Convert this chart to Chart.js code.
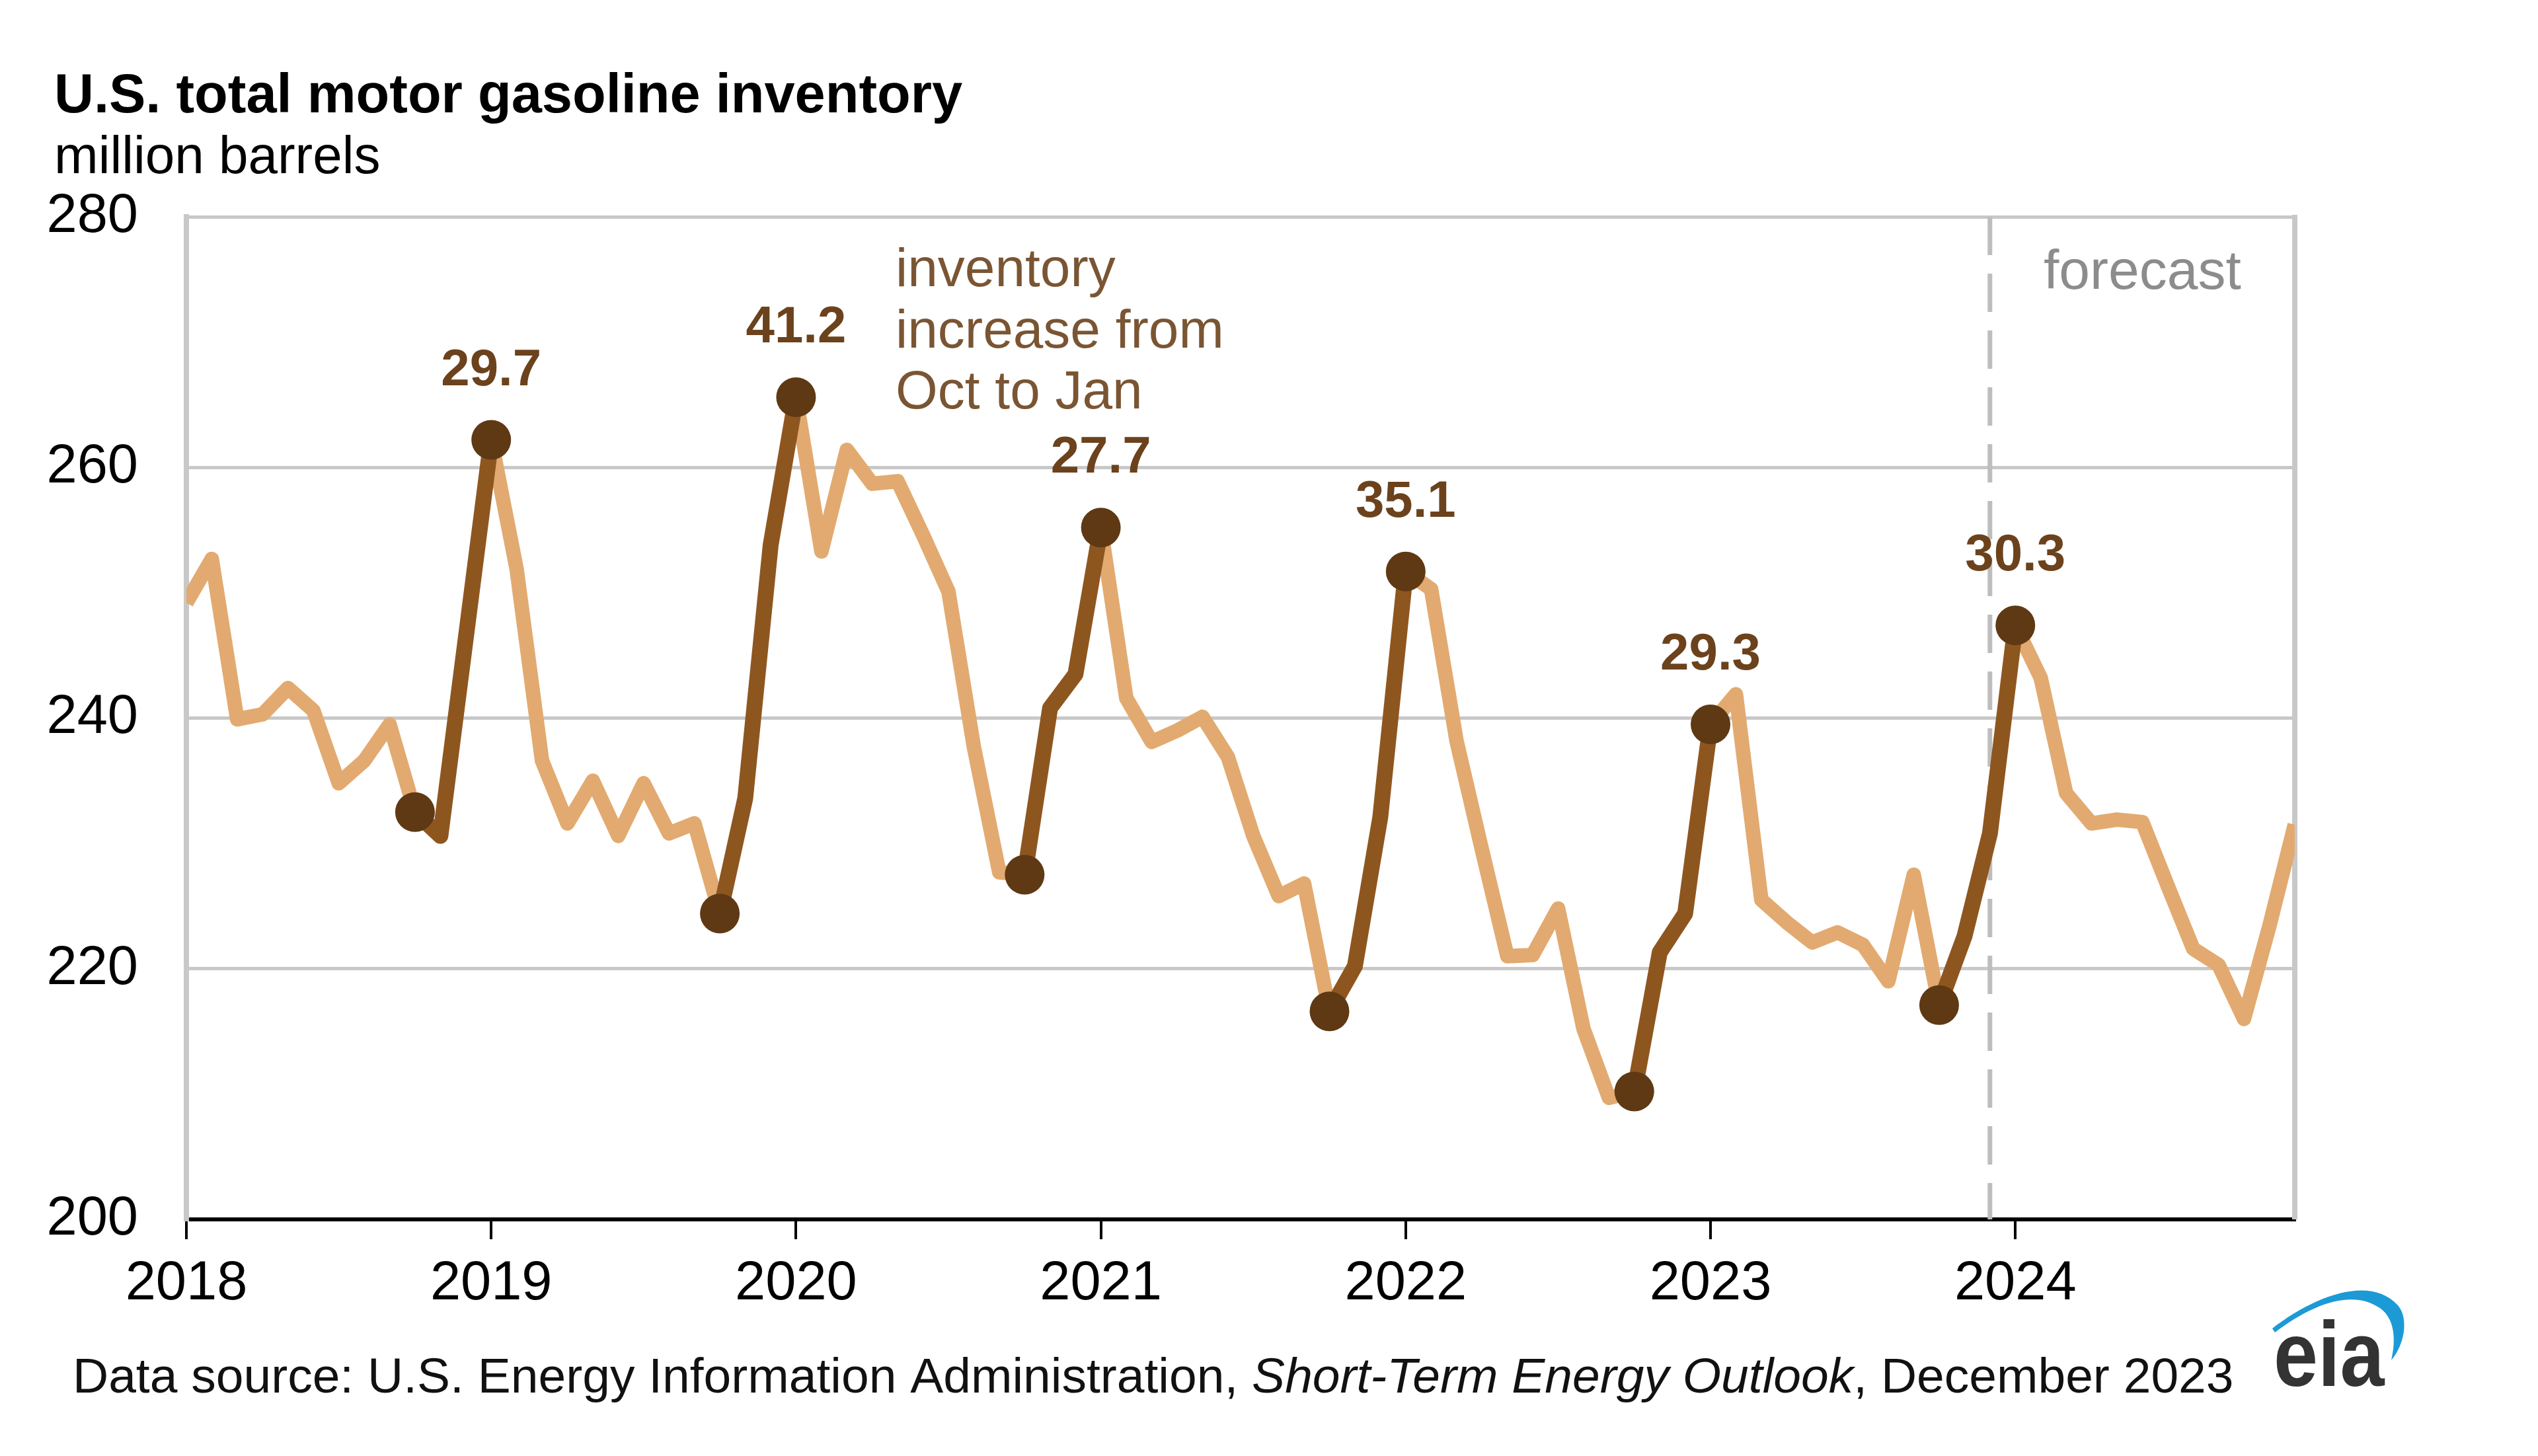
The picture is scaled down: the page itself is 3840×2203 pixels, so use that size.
<!DOCTYPE html>
<html>
<head>
<meta charset="utf-8">
<script src="https://cdn.jsdelivr.net/npm/chart.js@4.4.1/dist/chart.umd.min.js"></script>
<style>
html,body{margin:0;padding:0;background:#fff;overflow:hidden}
#wrap{width:3840px;height:2203px;position:relative}
</style>
</head>
<body>
<div id="wrap"><canvas id="c"></canvas></div>
<script>
// ---------- data ----------
const yearLabels = ['2018', '2019', '2020', '2021', '2022', '2023', '2024'];
const monthNames = ['Jan', 'Feb', 'Mar', 'Apr', 'May', 'Jun', 'Jul', 'Aug', 'Sep', 'Oct', 'Nov', 'Dec'];

// U.S. total motor gasoline inventory, million barrels (monthly)
const inventory2018 = [249.2, 252.7, 239.9, 240.3, 242.4, 240.6, 234.8, 236.6, 239.5, 232.5, 230.6, 246.4];
const inventory2019 = [262.2, 251.9, 236.6, 231.6, 235.0, 230.6, 234.8, 230.8, 231.6, 224.4, 233.6, 253.8];
const inventory2020 = [265.6, 253.3, 261.4, 258.7, 258.9, 254.6, 250.1, 237.7, 227.7, 227.5, 240.8, 243.5];
const inventory2021 = [255.2, 241.6, 238.1, 239.0, 240.1, 236.9, 230.6, 225.8, 226.8, 216.6, 220.2, 232.1];
const inventory2022 = [251.7, 250.3, 238.2, 229.5, 221.0, 221.1, 224.8, 215.2, 209.7, 210.2, 221.3, 224.4];
const inventory2023 = [239.5, 241.9, 225.5, 223.7, 222.1, 222.9, 221.9, 219.0, 227.5, 217.1, 222.6, 230.8];
const inventory2024 = [247.4, 243.2, 234.0, 231.6, 231.9, 231.7, 226.6, 221.6, 220.3, 216.0, 223.4, 231.5];

// Oct -> Jan windows (highlighted) and their labelled increases
const octToJanWindows = [
  ['Oct 2018', 'Jan 2019'],
  ['Oct 2019', 'Jan 2020'],
  ['Oct 2020', 'Jan 2021'],
  ['Oct 2021', 'Jan 2022'],
  ['Oct 2022', 'Jan 2023'],
  ['Oct 2023', 'Jan 2024']
];
const increaseLabels = ['29.7', '41.2', '27.7', '35.1', '29.3', '30.3'];
const forecastStart = 'Dec 2023';
const yTicks = [200, 220, 240, 260, 280];

// ---------- tables built from the arrays ----------
const categories = [];
yearLabels.forEach(y => monthNames.forEach(m => categories.push(m + ' ' + y)));
const inventory = [].concat(inventory2018, inventory2019, inventory2020, inventory2021,
                            inventory2022, inventory2023, inventory2024);
const highlight = inventory.map(() => null);
const markerIdx = [];
const labelIdx = [];
octToJanWindows.forEach(([a, b]) => {
  const i0 = categories.indexOf(a), i1 = categories.indexOf(b);
  for (let i = i0; i <= i1; i++) highlight[i] = inventory[i];
  markerIdx.push(i0, i1);
  labelIdx.push(i1);
});

// ---------- styling ----------
const FONT = "'Liberation Sans', Arial, Helvetica, sans-serif";
Chart.defaults.font.family = FONT;
Chart.defaults.color = '#000';

const LIGHT = '#E2AA70';
const DARK = '#8E561F';
const MARK = '#5E3914';
const LABEL = '#6B421C';
const NOTE = '#7A5533';
const GRID = '#c8c8c8';

const decor = {
  id: 'decor',
  beforeDatasetsDraw(chart) {
    const {ctx, chartArea: a, scales} = chart;
    ctx.save();
    // right border of plot
    ctx.strokeStyle = GRID;
    ctx.lineWidth = 8;
    ctx.beginPath();
    ctx.moveTo(a.right, a.top - 3);
    ctx.lineTo(a.right, a.bottom);
    ctx.stroke();
    // forecast divider
    const fx = scales.x.getPixelForValue(categories.indexOf(forecastStart));
    ctx.strokeStyle = '#bdbdbd';
    ctx.lineWidth = 7;
    ctx.setLineDash([58, 28]);
    ctx.beginPath();
    ctx.moveTo(fx, a.top);
    ctx.lineTo(fx, a.bottom);
    ctx.stroke();
    ctx.setLineDash([]);
    ctx.restore();
  },
  afterDatasetsDraw(chart) {
    const {ctx} = chart;
    const meta = chart.getDatasetMeta(0);
    ctx.save();
    ctx.font = `bold 78px ${FONT}`;
    ctx.fillStyle = LABEL;
    ctx.textAlign = 'center';
    ctx.textBaseline = 'alphabetic';
    labelIdx.forEach((idx, k) => {
      const p = meta.data[idx];
      ctx.fillText(increaseLabels[k], p.x, p.y - 83);
    });
    ctx.restore();
  },
  afterDraw(chart) {
    const {ctx} = chart;
    ctx.save();
    ctx.textAlign = 'left';
    ctx.textBaseline = 'alphabetic';
    // title & unit
    ctx.fillStyle = '#000';
    ctx.font = `bold 83px ${FONT}`;
    ctx.fillText('U.S. total motor gasoline inventory', 82, 170);
    ctx.font = `80px ${FONT}`;
    ctx.fillText('million barrels', 82, 262);
    // annotation
    ctx.fillStyle = NOTE;
    ctx.font = `82px ${FONT}`;
    ctx.fillText('inventory', 1355, 433);
    ctx.fillText('increase from', 1355, 526);
    ctx.fillText('Oct to Jan', 1355, 618);
    // forecast label
    ctx.fillStyle = '#8c8c8c';
    ctx.font = `84px ${FONT}`;
    ctx.fillText('forecast', 3092, 437);
    // footer
    ctx.fillStyle = '#111';
    let x = 110;
    const fy = 2107;
    const parts = [
      ['Data source: U.S. Energy Information Administration, ', ''],
      ['Short-Term Energy Outlook', 'italic '],
      [', December 2023', '']
    ];
    parts.forEach(([t, st]) => {
      ctx.font = `${st}75px ${FONT}`;
      ctx.fillText(t, x, fy);
      x += ctx.measureText(t).width;
    });
    // eia logo
    ctx.save();
    ctx.translate(3440, 2097);
    ctx.scale(0.86, 1);
    ctx.font = `bold 140px ${FONT}`;
    ctx.fillStyle = '#333333';
    ctx.fillText('eia', 0, 0);
    ctx.restore();
    ctx.beginPath();
    ctx.moveTo(3438, 2010);
    ctx.bezierCurveTo(3500, 1962, 3585, 1928, 3628, 1975);
    ctx.bezierCurveTo(3645, 1995, 3638, 2035, 3618, 2058);
    ctx.bezierCurveTo(3626, 2025, 3622, 1995, 3602, 1980);
    ctx.bezierCurveTo(3560, 1950, 3500, 1972, 3442, 2016);
    ctx.closePath();
    ctx.fillStyle = '#1C9AD6';
    ctx.fill();
    ctx.restore();
  }
};

new Chart(document.getElementById('c'), {
  type: 'line',
  data: {
    labels: categories,
    datasets: [
      {
        label: 'Oct to Jan increase',
        data: highlight,
        borderColor: DARK,
        borderWidth: 24,
        borderJoinStyle: 'round',
        borderCapStyle: 'round',
        tension: 0,
        spanGaps: false,
        pointRadius: c => markerIdx.includes(c.dataIndex) ? 30 : 0,
        pointHoverRadius: c => markerIdx.includes(c.dataIndex) ? 30 : 0,
        pointBackgroundColor: MARK,
        pointBorderColor: MARK,
        pointBorderWidth: 0,
        clip: false
      },
      {
        label: 'inventory',
        data: inventory,
        borderColor: LIGHT,
        borderWidth: 22,
        borderJoinStyle: 'round',
        tension: 0,
        pointRadius: 0,
        pointHoverRadius: 0,
        clip: {left: 0, right: 0, top: false, bottom: false}
      }
    ]
  },
  options: {
    responsive: true,
    maintainAspectRatio: false,
    animation: false,
    devicePixelRatio: 1,
    events: [],
    layout: {padding: {top: 328, right: 368, left: 0, bottom: 0}},
    plugins: {legend: {display: false}, tooltip: {enabled: false}},
    scales: {
      x: {
        type: 'category',
        offset: false,
        grid: {drawOnChartArea: false, drawTicks: true, tickLength: 30, color: '#000', tickColor: '#000', lineWidth: 4},
        border: {color: '#000', width: 6},
        ticks: {
          autoSkip: false, maxRotation: 0, minRotation: 0,
          font: {size: 83}, color: '#000', padding: 18,
          callback: (v, i) => (i % 12 === 0 ? yearLabels[i / 12] : null)
        },
        afterFit: s => { s.height = 358; }
      },
      y: {
        min: 200, max: 280,
        afterBuildTicks: s => { s.ticks = yTicks.map(v => ({value: v})); },
        grid: {
          color: c => (c.tick && c.tick.value === 200 ? 'rgba(0,0,0,0)' : GRID),
          lineWidth: 5, drawTicks: false
        },
        border: {color: GRID, width: 8},
        ticks: {font: {size: 83}, color: '#000', padding: 73},
        afterFit: s => { s.width = 282; }
      }
    }
  },
  plugins: [decor]
});
</script>
</body>
</html>
